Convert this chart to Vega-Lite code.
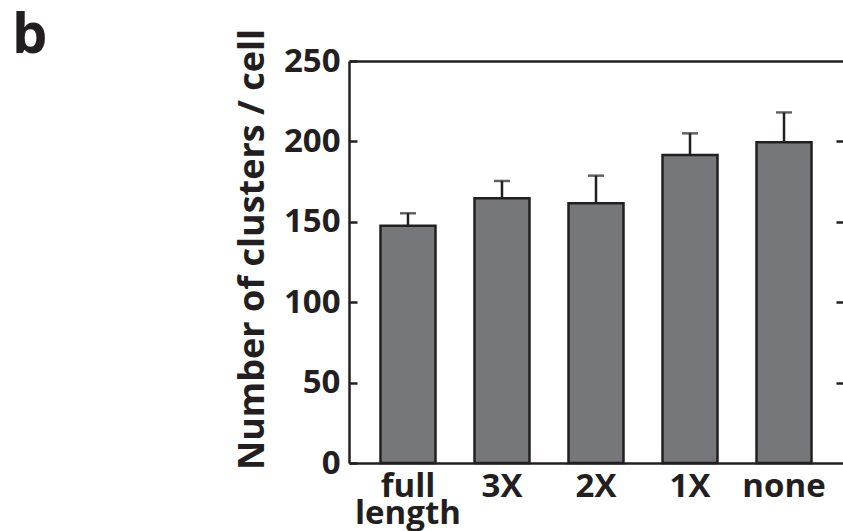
{
  "$schema": "https://vega.github.io/schema/vega-lite/v6.json",
  "width": 494,
  "height": 402,
  "autosize": {"type": "none"},
  "padding": {"left": 349, "top": 61, "right": 0, "bottom": 68},
  "background": "white",
  "title": {"text": "b", "anchor": "start", "frame": "group", "orient": "top", "align": "left", "baseline": "top", "font": "Open Sans", "fontWeight": "bold", "fontSize": 56, "color": "#231f20", "dx": -337, "dy": 41},
  "config": {
    "view": {"stroke": null},
    "axis": {"labelFont": "Open Sans", "titleFont": "Open Sans", "labelFontWeight": "bold", "titleFontWeight": "bold", "labelColor": "#231f20", "titleColor": "#231f20", "domainColor": "#231f20", "tickColor": "#231f20", "grid": false}
  },
  "data": {
    "values": [
      {"construct": "full length", "value": 147.6, "upper": 155.3},
      {"construct": "3X", "value": 164.6, "upper": 175.4},
      {"construct": "2X", "value": 161.5, "upper": 178.7},
      {"construct": "1X", "value": 191.5, "upper": 205},
      {"construct": "none", "value": 199.4, "upper": 218}
    ]
  },
  "layer": [
    {
      "mark": {"type": "bar", "color": "#76777b", "stroke": "#231f20", "strokeWidth": 2.5},
      "encoding": {
        "x": {
          "field": "construct", "type": "nominal", "sort": null,
          "scale": {"paddingInner": 0.415, "paddingOuter": 0.335},
          "axis": {"orient": "bottom", "title": null, "labelAngle": 0, "ticks": false, "domainWidth": 2.5, "labelFontSize": 33, "labelPadding": 7, "labelLineHeight": 27, "labelExpr": "datum.label == 'full length' ? ['full', 'length'] : datum.label"}
        },
        "y": {
          "field": "value", "type": "quantitative",
          "scale": {"domain": [0, 250], "nice": false},
          "axis": {"orient": "left", "title": "Number of clusters / cell", "titleFontSize": 36, "titlePadding": 12, "titleY": 188, "values": [0, 50, 100, 150, 200, 250], "labelFontSize": 33, "tickSize": -8, "tickWidth": 2.5, "domainWidth": 2.5, "labelPadding": 17}
        }
      }
    },
    {
      "mark": {"type": "rule", "color": "#231f20", "strokeWidth": 2.5},
      "encoding": {
        "x": {"field": "construct", "type": "nominal", "sort": null,
          "axis": {"orient": "top", "title": null, "labels": false, "ticks": false, "domainWidth": 2.5}},
        "y": {"field": "value", "type": "quantitative",
          "axis": {"orient": "right", "title": null, "labels": false, "domain": false, "values": [50, 100, 150, 200], "tickSize": -7, "tickWidth": 2.5}},
        "y2": {"field": "upper"}
      }
    },
    {
      "mark": {"type": "tick", "color": "#231f20", "thickness": 2.5, "size": 16},
      "encoding": {
        "x": {"field": "construct", "type": "nominal", "sort": null, "axis": null},
        "y": {"field": "upper", "type": "quantitative", "axis": null}
      }
    }
  ],
  "resolve": {"axis": {"x": "independent", "y": "independent"}}
}
